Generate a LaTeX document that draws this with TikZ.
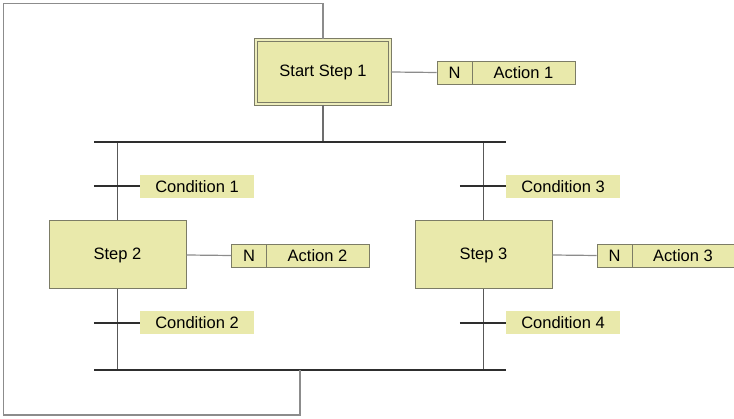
\documentclass[tikz,border=0pt]{standalone}
\usepackage{fontspec}
\setmainfont{Liberation Sans}
\usetikzlibrary{calc}

\definecolor{stepfill}{HTML}{E9E9AB}
\definecolor{stepedge}{HTML}{7C7C66}
\definecolor{wiregray}{HTML}{8C8C8C}
\definecolor{bardark}{HTML}{2E2E2E}

\tikzset{
    stepbox/.style={draw=stepedge, fill=stepfill, line width=1pt, minimum width=137pt, minimum height=68pt, inner sep=0pt},
    initstep/.style={stepbox, line width=1.6pt, double=stepfill!80!white, double distance=1.4pt, minimum width=134pt, minimum height=64pt},
    qualbox/.style={draw=stepedge, fill=stepfill, line width=0.9pt, minimum width=35pt, minimum height=23pt, inner sep=0pt},
    actbox/.style={qualbox, minimum width=103pt},
    condlbl/.style={fill=stepfill, minimum width=114pt, minimum height=23pt, inner sep=0pt},
    wire/.style={wiregray, line width=1.2pt},
    bar/.style={bardark, line width=2pt},
}

\begin{document}
\begin{tikzpicture}[x=1pt, y=-1pt, font=\fontsize{16.5}{19}\selectfont]
    \useasboundingbox (0,0) rectangle (734,419);

    \node (s1) at (323,72) [initstep] {Start Step 1};
    \node (a1n) at (454.5,72.5) [qualbox] {N};
    \node (a1) at (523.5,72.5) [actbox] {Action 1};
    \draw[wire] (s1.east) -- (a1n.west);

    \coordinate (topL) at (94,142);
    \coordinate (topR) at (506,142);
    \coordinate (topM) at (323,142);
    \coordinate (botL) at (94,370);
    \coordinate (botR) at (506,370);
    \coordinate (botM) at (300,370);

    \node (s2) at (117.5,255) [stepbox] {Step 2};
    \node (a2n) at (249,255.5) [qualbox] {N};
    \node (a2) at (317.5,255.5) [actbox] {Action 2};
    \draw[wire] (s2.east) -- (a2n.west);

    \node (s3) at (483.5,255) [stepbox] {Step 3};
    \node (a3n) at (614.5,255.5) [qualbox] {N};
    \node (a3) at (683,255.5) [actbox, minimum width=102pt] {Action 3};
    \draw[wire] (s3.east) -- (a3n.west);

    \node (c1) at (197,186.5) [condlbl] {Condition 1};
    \node (c2) at (197,323) [condlbl] {Condition 2};
    \node (c3) at (563,186.5) [condlbl] {Condition 3};
    \node (c4) at (563,323) [condlbl] {Condition 4};

    \draw[wire, bardark!70] (s1.south) -- (topM);
    \draw[wire, bardark!80] (s2.north) -- (s2.north |- topL);
    \draw[wire, bardark!80] (s3.north) -- (s3.north |- topR);
    \draw[wire, bardark!80] (s2.south) -- (s2.south |- botL);
    \draw[wire, bardark!80] (s3.south) -- (s3.south |- botR);

    \draw[bar] (topL) -- (topR);
    \draw[bar] (botL) -- (botR);

    \foreach \c in {c1,c2,c3,c4} {
        \draw[bar] ($(\c.west)+(-46,0)$) -- (\c.west);
    }

    \draw[wire] (botM) -- (300,415) -- (3.5,415) -- (3.5,3.5) -- (323,3.5) -- (s1.north);
\end{tikzpicture}
\end{document}
